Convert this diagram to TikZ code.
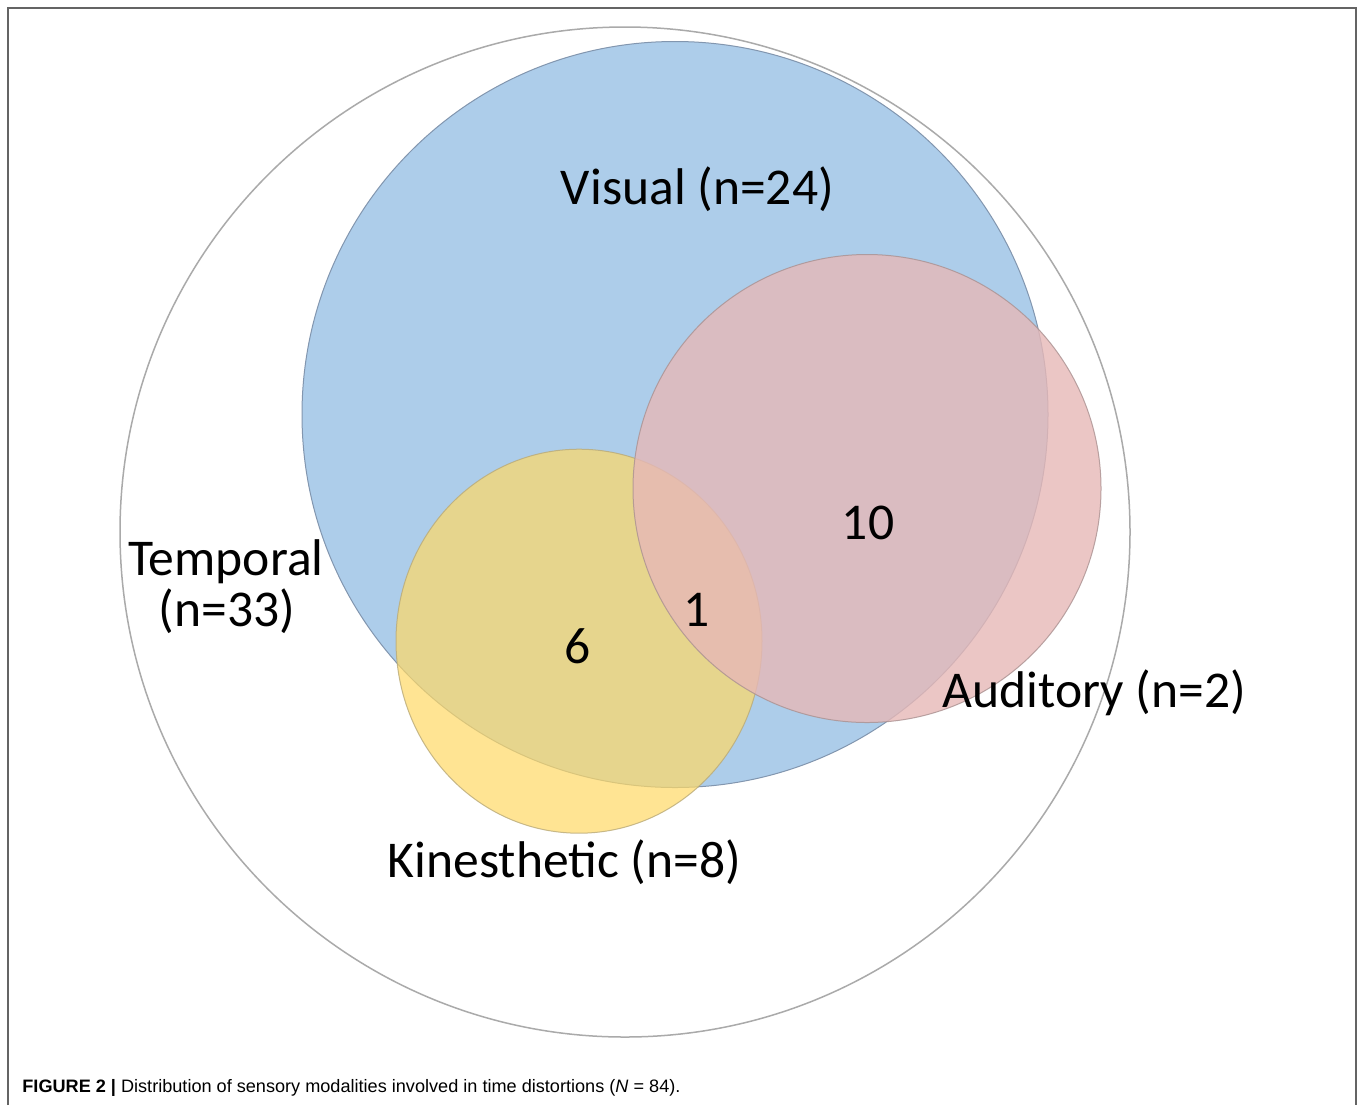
\documentclass[tikz,border=0pt]{standalone}
\usepackage{fontspec}
\setmainfont{Carlito}
\newfontfamily\capfont{Liberation Sans}
\usepackage{graphicx}
\definecolor{framegray}{RGB}{100,100,100}
\definecolor{templine}{RGB}{170,170,170}
\definecolor{visfill}{RGB}{173,205,234}
\definecolor{visline}{RGB}{130,150,175}
\definecolor{audfill}{RGB}{230,184,183}
\definecolor{audline}{RGB}{170,145,145}
\definecolor{kinfill}{RGB}{255,217,102}
\definecolor{kinline}{RGB}{185,170,120}
\tikzset{
  lbl/.style={anchor=base, inner sep=0pt, font=\fontsize{25.8}{30}\selectfont, text=black},
}
\begin{document}
\begin{tikzpicture}[x=0.5pt,y=-0.5pt]
\useasboundingbox (0,0) rectangle (1360,1105);
\fill[white] (0,0) rectangle (1360,1105);
% frame
\draw[framegray, line width=1pt] (8,1105) -- (8,8) -- (1356,8) -- (1356,1105);
% temporal
\draw[templine, line width=0.75pt] (625,532) circle[radius=252.5pt];
% visual
\filldraw[fill=visfill, draw=visline, line width=0.5pt] (675,414.5) circle[radius=186.5pt];
% kinesthetic
\filldraw[fill=kinfill, fill opacity=0.7, draw=kinline, draw opacity=0.8, line width=0.5pt] (579,641.2) ellipse[x radius=91.5pt, y radius=96pt];
% auditory
\filldraw[fill=audfill, fill opacity=0.8, draw=audline, draw opacity=0.8, line width=0.5pt] (867,488.5) circle[radius=117pt];
% labels
\node[lbl] (vis) at (697.5,204) {Visual (n=24)};
\node[lbl] (temp1) at (226,575) {Temporal};
\node[lbl] (temp2) at (227,626) {(n=33)};
\node[lbl] (aud) at (1094.5,707) {Auditory (n=2)};
\node[lbl] (kin) at (564.5,877) {Kinesthetic (n=8)};
\node[lbl] (n10) at (868,539) {10};
\node[lbl] (n1) at (697,626) {1};
\node[lbl] (n6) at (578,663) {6};
% caption
\node[anchor=base west, inner sep=0pt, font=\capfont\fontsize{9}{11}\selectfont] (cap) at (22,1092)
  {\resizebox{329pt}{\height}{\textbf{FIGURE 2 |} Distribution of sensory modalities involved in time distortions (\textit{N} = 84).}};
\end{tikzpicture}
\end{document}
